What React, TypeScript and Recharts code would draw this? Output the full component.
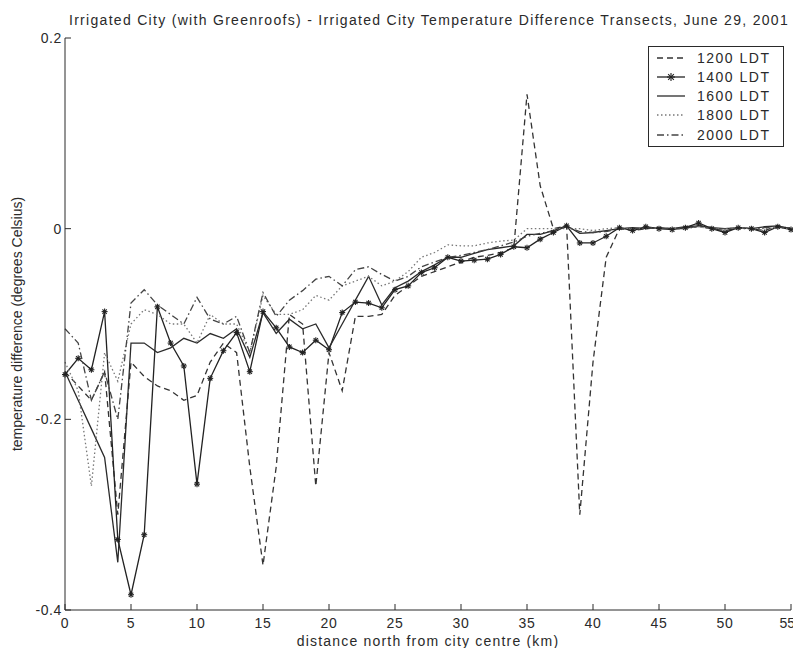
import React from 'react';
import { LineChart, Line, XAxis, YAxis, Legend, Label } from 'recharts';

// distance north from city centre (km)
const distanceKm = [
  0, 1, 2, 3, 4, 5, 6, 7, 8, 9, 10, 11, 12, 13, 14, 15, 16, 17, 18, 19,
  20, 21, 22, 23, 24, 25, 26, 27, 28, 29, 30, 31, 32, 33, 34, 35, 36, 37, 38, 39,
  40, 41, 42, 43, 44, 45, 46, 47, 48, 49, 50, 51, 52, 53, 54, 55,
];

// temperature difference (degrees Celsius), one value per km
const ldt1200 = [
  -0.15, -0.165, -0.18, -0.15, -0.3, -0.14, -0.155, -0.165, -0.17, -0.18,
  -0.175, -0.14, -0.12, -0.13, -0.25, -0.353, -0.25, -0.09, -0.1, -0.27,
  -0.13, -0.17, -0.092, -0.092, -0.09, -0.07, -0.06, -0.05, -0.045, -0.04,
  -0.035, -0.03, -0.028, -0.025, -0.02, 0.141, 0.045, 0.0, 0.003, -0.3,
  -0.14, -0.03, 0.0, -0.002, 0.0, 0.001, 0.0, 0.0, 0.004, 0.0,
  -0.002, 0.001, 0.0, -0.002, 0.003, 0.0,
];
const ldt1400 = [
  -0.153, -0.136, -0.148, -0.087, -0.326, -0.384, -0.321, -0.082, -0.12, -0.144,
  -0.268, -0.157, -0.128, -0.109, -0.15, -0.087, -0.104, -0.124, -0.13, -0.117,
  -0.127, -0.088, -0.077, -0.078, -0.083, -0.064, -0.06, -0.046, -0.041, -0.03,
  -0.034, -0.033, -0.032, -0.027, -0.019, -0.02, -0.011, -0.004, 0.003, -0.015,
  -0.015, -0.008, 0.001, -0.002, 0.002, 0.0, -0.001, 0.001, 0.006, 0.0,
  -0.004, 0.001, 0.0, -0.004, 0.002, -0.001,
];
const ldt1600 = [
  -0.15, -0.18, -0.21, -0.24, -0.35, -0.12, -0.12, -0.13, -0.125, -0.115,
  -0.12, -0.11, -0.115, -0.105, -0.135, -0.088, -0.11, -0.095, -0.105, -0.1,
  -0.125, -0.1, -0.075, -0.05, -0.08, -0.062, -0.055, -0.045, -0.038, -0.03,
  -0.03, -0.026, -0.022, -0.02, -0.018, -0.006, -0.006, -0.002, 0.003, -0.005,
  -0.004, -0.002, 0.0, 0.001, 0.0, 0.001, 0.0, 0.002, 0.003, 0.001,
  0.0, 0.001, 0.0, 0.002, 0.003, 0.0,
];
const ldt1800 = [
  -0.14, -0.17, -0.27, -0.13, -0.16, -0.1, -0.085, -0.09, -0.1, -0.1,
  -0.12, -0.09, -0.1, -0.1, -0.13, -0.07, -0.09, -0.09, -0.085, -0.07,
  -0.075, -0.06, -0.055, -0.05, -0.06, -0.055, -0.045, -0.03, -0.025, -0.017,
  -0.018, -0.018, -0.015, -0.013, -0.012, 0.0, 0.0, 0.0, 0.0, 0.0,
  -0.002, 0.0, 0.001, 0.0, 0.0, 0.001, 0.0, 0.0, 0.002, 0.0,
  0.0, 0.001, 0.0, 0.0, 0.001, 0.0,
];
const ldt2000 = [
  -0.105, -0.12, -0.18, -0.15, -0.2, -0.078, -0.064, -0.08, -0.09, -0.1,
  -0.072, -0.095, -0.1, -0.092, -0.13, -0.067, -0.092, -0.075, -0.065, -0.053,
  -0.05, -0.06, -0.043, -0.04, -0.048, -0.055, -0.05, -0.04, -0.035, -0.03,
  -0.028, -0.025, -0.022, -0.018, -0.014, -0.008, -0.005, -0.002, 0.002, -0.003,
  -0.004, -0.003, 0.0, 0.0, 0.001, 0.0, 0.0, 0.001, 0.002, 0.0,
  0.0, 0.0, 0.0, 0.001, 0.002, 0.0,
];

const xTicks = [0, 5, 10, 15, 20, 25, 30, 35, 40, 45, 50, 55];
const yTicks = [0.2, 0, -0.2, -0.4];

const seriesNames = ['1200 LDT', '1400 LDT', '1600 LDT', '1800 LDT', '2000 LDT'];

const rows = distanceKm.map((km, i) => ({
  km,
  t1200: ldt1200[i],
  t1400: ldt1400[i],
  t1600: ldt1600[i],
  t1800: ldt1800[i],
  t2000: ldt2000[i],
}));

const FONT = '"Liberation Sans", Arial, sans-serif';
const INK = '#2a2a2a';

const lineStyles = [
  { key: 't1200', color: '#333', dash: '6 4', star: false },
  { key: 't1400', color: '#222', dash: undefined, star: true },
  { key: 't1600', color: '#2a2a2a', dash: undefined, star: false },
  { key: 't1800', color: '#777', dash: '1.5 2.5', star: false },
  { key: 't2000', color: '#444', dash: '7 3 1.5 3', star: false },
];

function StarMark({ cx, cy, color = '#222', r = 4 }: any) {
  if (cx == null || cy == null) return null;
  const d = r * 0.72;
  return (
    <g stroke={color} strokeWidth={1.1}>
      <line x1={cx - r} y1={cy} x2={cx + r} y2={cy} />
      <line x1={cx} y1={cy - r} x2={cx} y2={cy + r} />
      <line x1={cx - d} y1={cy - d} x2={cx + d} y2={cy + d} />
      <line x1={cx - d} y1={cy + d} x2={cx + d} y2={cy - d} />
    </g>
  );
}

function BottomTick({ x, y, payload }: any) {
  // the last label sits against the right edge, keep it inside the picture
  const isLast = payload.value === xTicks[xTicks.length - 1];
  return (
    <g>
      <line x1={x} y1={y} x2={x} y2={y - 6} stroke={INK} />
      <text
        x={isLast ? x + 4 : x}
        y={y + 18}
        textAnchor={isLast ? 'end' : 'middle'}
        fontSize={14}
        letterSpacing={isLast ? 0 : 0.6}
        fontFamily={FONT}
        fill={INK}
      >
        {payload.value}
      </text>
    </g>
  );
}

function TopTick({ x, y }: any) {
  return <line x1={x} y1={y} x2={x} y2={y + 6} stroke={INK} />;
}

function LeftTick({ x, y, payload }: any) {
  return (
    <g>
      <line x1={x} y1={y} x2={x + 6} y2={y} stroke={INK} />
      <text x={x - 3} y={y + 5} textAnchor="end" fontSize={14} letterSpacing={0.6} fontFamily={FONT} fill={INK}>
        {payload.value === 0 ? '0' : String(payload.value)}
      </text>
    </g>
  );
}

function RightTick({ x, y }: any) {
  return <line x1={x} y1={y} x2={x - 6} y2={y} stroke={INK} />;
}

function LegendBox() {
  const rowY = [12, 31, 50, 69, 89];
  return (
    <svg width={136} height={101} style={{ display: 'block' }}>
      <rect x={0.5} y={0.5} width={135} height={100} fill="#fff" stroke={INK} />
      {seriesNames.map((name, i) => {
        const s = lineStyles[i];
        return (
          <g key={name}>
            <line x1={9} y1={rowY[i]} x2={37} y2={rowY[i]} stroke={s.color} strokeWidth={1.3} strokeDasharray={s.dash} />
            {s.star && <StarMark cx={23} cy={rowY[i]} color={s.color} />}
            <text x={49} y={rowY[i] + 5} fontSize={14} letterSpacing={1.5} fontFamily={FONT} fill={INK}>
              {name}
            </text>
          </g>
        );
      })}
    </svg>
  );
}

export default function App() {
  return (
    <div style={{ position: 'relative', width: 793, height: 640, background: '#fff', overflow: 'hidden' }}>
      <div
        style={{
          position: 'absolute',
          top: 4,
          left: 51,
          width: 740,
          textAlign: 'center',
          fontFamily: FONT,
          fontSize: 14,
          letterSpacing: 1.3,
          lineHeight: '16px',
          color: INK,
          whiteSpace: 'nowrap',
        }}
      >
        Irrigated City (with Greenroofs) - Irrigated City Temperature Difference Transects, June 29, 2001
      </div>
      <LineChart
        width={793}
        height={640}
        data={rows}
        margin={{ top: 30, right: 10, bottom: 2, left: 4 }}
      >
        <XAxis
          dataKey="km"
          type="number"
          domain={[0, 55]}
          ticks={xTicks}
          interval={0}
          height={36}
          tickSize={0}
          tickMargin={0}
          axisLine={{ stroke: INK }}
          tick={<BottomTick />}
        >
          <Label
            value="distance north from city centre (km)"
            position="insideBottom"
            offset={0}
            style={{ fontFamily: FONT, fontSize: 14, fill: INK, letterSpacing: 1.2 }}
          />
        </XAxis>
        <XAxis
          xAxisId="top"
          orientation="top"
          dataKey="km"
          type="number"
          domain={[0, 55]}
          ticks={xTicks}
          interval={0}
          height={0}
          tickSize={0}
          tickMargin={0}
          axisLine={{ stroke: INK }}
          tick={<TopTick />}
        />
        <YAxis
          type="number"
          domain={[-0.4, 0.2]}
          ticks={yTicks}
          interval={0}
          width={53}
          tickSize={0}
          tickMargin={0}
          axisLine={{ stroke: INK }}
          tick={<LeftTick />}
        >
          <Label
            value="temperature difference (degrees Celsius)"
            angle={-90}
            position="insideLeft"
            offset={5}
            style={{ fontFamily: FONT, fontSize: 14, fill: INK, textAnchor: 'middle' }}
          />
        </YAxis>
        <YAxis
          yAxisId="right"
          orientation="right"
          type="number"
          domain={[-0.4, 0.2]}
          ticks={yTicks}
          interval={0}
          width={0}
          tickSize={0}
          tickMargin={0}
          axisLine={{ stroke: INK }}
          tick={<RightTick />}
        />
        {lineStyles.map((s, i) => (
          <Line
            key={s.key}
            dataKey={s.key}
            name={seriesNames[i]}
            type="linear"
            stroke={s.color}
            strokeWidth={1.3}
            strokeDasharray={s.dash}
            dot={s.star ? <StarMark color={s.color} /> : false}
            activeDot={false}
            isAnimationActive={false}
          />
        ))}
        <Legend
          layout="vertical"
          align="center"
          verticalAlign="middle"
          content={<LegendBox />}
          wrapperStyle={{ position: 'absolute', top: 38, left: 640, width: 136, height: 101 }}
        />
      </LineChart>
    </div>
  );
}
